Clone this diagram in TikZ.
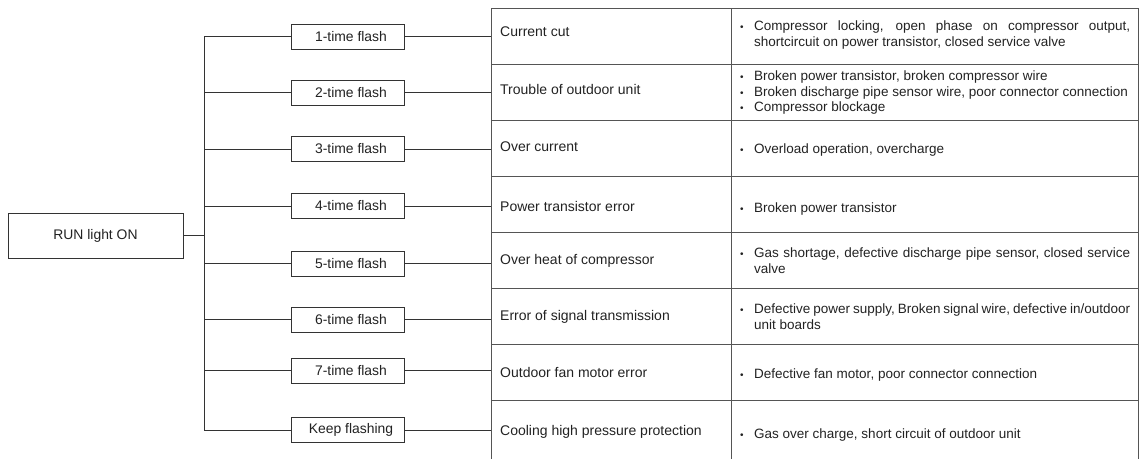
\documentclass[tikz,border=0pt]{standalone}
\usepackage{fontspec}
\setmainfont{Liberation Sans}
\definecolor{ln}{HTML}{333333}
\definecolor{tl}{HTML}{555555}
\definecolor{tx}{HTML}{222222}
\newcommand{\bitem}[1]{\par\noindent\makebox[14pt][l]{\fontsize{10}{10}\selectfont •}\parbox[t]{376pt}{\spaceskip=0pt\xspaceskip=0pt\rightskip=0pt\leftskip=0pt\tolerance=10000\hyphenpenalty=10000\exhyphenpenalty=10000 #1}}
\begin{document}
\begin{tikzpicture}[x=1pt,y=-1pt,
  conn/.style={draw=ln, line width=0.9pt},
  lbl/.style={draw=ln, line width=0.9pt, fill=white, text=tx, inner sep=0pt,
    font=\fontsize{13.9}{16}\selectfont},
  flashbox/.style={lbl, minimum width=113pt, minimum height=25pt,
    execute at begin node={\hspace*{7pt}}},
  cell/.style={draw=tl, line width=1.4pt, anchor=north west, inner sep=0pt},
  cellL/.style={cell, minimum width=240pt},
  cellR/.style={cell, minimum width=407pt},
  ltext/.style={anchor=west, text=tx, inner sep=0pt, font=\fontsize{14}{16}\selectfont},
  rtext/.style={anchor=west, text=tx, inner sep=0pt, text width=390pt,
    font=\fontsize{13.5}{15.5}\selectfont}
]
\useasboundingbox (0,0) rectangle (1140,458);

% start box
\node[lbl, minimum width=175pt, minimum height=45pt] (run) at (95.5,235.5) {RUN light ON};

% flash boxes
\node[flashbox] (f1) at (347.5,36.5) {1-time flash};
\node[flashbox] (f2) at (347.5,92.5) {2-time flash};
\node[flashbox] (f3) at (347.5,149) {3-time flash};
\node[flashbox] (f4) at (347.5,206) {4-time flash};
\node[flashbox] (f5) at (347.5,263.5) {5-time flash};
\node[flashbox] (f6) at (347.5,319.5) {6-time flash};
\node[flashbox] (f7) at (347.5,370.5) {7-time flash};
\node[flashbox] (f8) at (347.5,430) {Keep flashing};

% table cells
\node[cellL, minimum height=56pt]   (c1) at (490.7,8)     {};
\node[cellL, minimum height=55.5pt] (c2) at (490.7,64)    {};
\node[cellL, minimum height=56.5pt] (c3) at (490.7,119.5) {};
\node[cellL, minimum height=56pt]   (c4) at (490.7,176)   {};
\node[cellL, minimum height=56pt]   (c5) at (490.7,232)   {};
\node[cellL, minimum height=55.5pt] (c6) at (490.7,288)   {};
\node[cellL, minimum height=56pt]   (c7) at (490.7,343.5) {};
\node[cellL, minimum height=66.5pt] (c8) at (490.7,399.5) {};
\node[cellR, minimum height=56pt]   (d1) at (730.7,8)     {};
\node[cellR, minimum height=55.5pt] (d2) at (730.7,64)    {};
\node[cellR, minimum height=56.5pt] (d3) at (730.7,119.5) {};
\node[cellR, minimum height=56pt]   (d4) at (730.7,176)   {};
\node[cellR, minimum height=56pt]   (d5) at (730.7,232)   {};
\node[cellR, minimum height=55.5pt] (d6) at (730.7,288)   {};
\node[cellR, minimum height=56pt]   (d7) at (730.7,343.5) {};
\node[cellR, minimum height=66.5pt] (d8) at (730.7,399.5) {};

% cause texts
\node[ltext] (t1) at (500,32)  {Current cut};
\node[ltext] (t2) at (500,89)  {Trouble of outdoor unit};
\node[ltext] (t3) at (500,147) {Over current};
\node[ltext] (t4) at (500,206) {Power transistor error};
\node[ltext] (t5) at (500,261) {Over heat of compressor};
\node[ltext] (t6) at (500,317) {Error of signal transmission};
\node[ltext] (t7) at (500,372) {Outdoor fan motor error};
\node[ltext] (t8) at (500,432) {Cooling high pressure protection};

% detail texts
\node[rtext] (u1) at (740,32)  {\bitem{Compressor locking, open phase on compressor output, shortcircuit on power transistor, closed service valve}};
\node[rtext] (u2) at (740,90)  {\bitem{Broken power transistor, broken compressor wire}\bitem{Broken discharge pipe sensor wire, poor connector connection}\bitem{Compressor blockage}};
\node[rtext] (u3) at (740,147) {\bitem{Overload operation, overcharge}};
\node[rtext] (u4) at (740,206) {\bitem{Broken power transistor}};
\node[rtext] (u5) at (740,258) {\bitem{Gas shortage, defective discharge pipe sensor, closed service valve}};
\node[rtext] (u6) at (740,314) {\bitem{Defective power supply, Broken signal wire, defective in/outdoor unit boards}};
\node[rtext] (u7) at (740,372) {\bitem{Defective fan motor, poor connector connection}};
\node[rtext] (u8) at (740,432) {\bitem{Gas over charge, short circuit of outdoor unit}};

% bus and connectors
\coordinate (bt) at (204,36.5);
\coordinate (bb) at (204,430);
\draw[conn] (bt) -- (bb);
\draw[conn] (run.east) -- (run.east -| bt);
\foreach \i in {1,...,8}{
  \draw[conn] (f\i.west -| bt) -- (f\i.west);
  \draw[conn] (f\i.east) -- (f\i.east -| c\i.west);
}
\end{tikzpicture}
\end{document}
